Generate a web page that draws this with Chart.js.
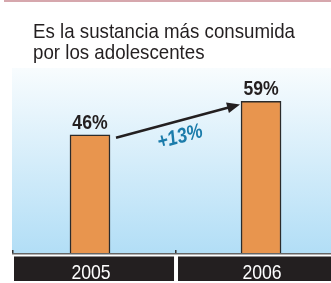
<!doctype html>
<html lang="en">
<head>
    <meta charset="utf-8">
    <title>Es la sustancia más consumida</title>
    <script src="https://cdn.jsdelivr.net/npm/chart.js"></script>
    <style>
        html, body { margin: 0; padding: 0; background: #fff; }
        canvas { display: block; }
    </style>
</head>
<body>
    <canvas id="chartEl" width="331" height="283"></canvas>
    <script>
        const years = ['2005', '2006'];
        const shares = [46, 59];
        const changeLabel = '+13%';
        const titleLines = ['Es la sustancia más consumida', 'por los adolescentes'];

        const FONT = '"Liberation Sans", Arial, sans-serif';

        // draws text squeezed horizontally, like a condensed face
        const narrowText = (ctx, text, x, y, sx) => {
            ctx.save();
            ctx.translate(x, y);
            ctx.scale(sx, 1);
            ctx.fillText(text, 0, 0);
            ctx.restore();
        };

        const decor = {
            id: 'decor',
            beforeDraw: (chart) => {
                const { ctx, chartArea } = chart;
                const x = chart.scales.x;
                ctx.save();
                // pink rule at the very top
                ctx.fillStyle = '#d6a7ad';
                ctx.fillRect(4, 0, 327, 2);

                // title
                ctx.fillStyle = '#231f20';
                ctx.font = '21px ' + FONT;
                ctx.textBaseline = 'alphabetic';
                ctx.textAlign = 'left';
                const sx = 262 / ctx.measureText(titleLines[0]).width;
                narrowText(ctx, titleLines[0], 33, 38, sx);
                narrowText(ctx, titleLines[1], 33, 59, sx);

                // sky gradient
                const g = ctx.createLinearGradient(0, chartArea.top, 0, chartArea.bottom);
                g.addColorStop(0, '#f8fcfe');
                g.addColorStop(1, '#b2def6');
                ctx.fillStyle = g;
                ctx.fillRect(chartArea.left, chartArea.top, chartArea.right - chartArea.left, chartArea.bottom - chartArea.top);

                // axis line and ticks
                const mid = (x.getPixelForValue(0) + x.getPixelForValue(1)) / 2;
                ctx.fillStyle = '#666';
                ctx.fillRect(chartArea.left, chartArea.bottom, chartArea.right - chartArea.left, 1.5);
                ctx.fillStyle = '#333';
                ctx.fillRect(chartArea.left, chartArea.bottom - 3, 1.5, 3);
                ctx.fillRect(mid - 0.5, chartArea.bottom - 3, 1.5, 3);

                // year boxes
                ctx.fillStyle = '#231f20';
                ctx.fillRect(chartArea.left + 2, 256.5, mid - 1.5 - chartArea.left - 2, 24.5);
                ctx.fillRect(mid + 2.5, 256.5, chartArea.right - mid - 2.5, 24.5);
                ctx.fillStyle = '#ffffff';
                ctx.font = '21px ' + FONT;
                ctx.textAlign = 'center';
                years.forEach((yr, i) => {
                    narrowText(ctx, yr, x.getPixelForValue(i) + 1, 278.5, 0.84);
                });
                ctx.restore();
            },
            afterDatasetsDraw: (chart) => {
                const { ctx } = chart;
                const x = chart.scales.x;
                const y = chart.scales.y;
                ctx.save();
                // value labels
                ctx.fillStyle = '#231f20';
                ctx.font = 'bold 21px ' + FONT;
                ctx.textAlign = 'center';
                shares.forEach((v, i) => {
                    narrowText(ctx, v + '%', x.getPixelForValue(i), y.getPixelForValue(v) - 6, 0.84);
                });

                // arrow between bar tops
                const meta = chart.getDatasetMeta(0).data;
                const x0 = meta[0].x + meta[0].width / 2 + 6;
                const y0 = y.getPixelForValue(shares[0]) + 3;
                const x1 = meta[1].x - meta[1].width / 2 - 1;
                const y1 = y.getPixelForValue(shares[1]) + 3;
                const ang = Math.atan2(y1 - y0, x1 - x0);
                ctx.strokeStyle = '#231f20';
                ctx.fillStyle = '#231f20';
                ctx.lineWidth = 2.5;
                ctx.beginPath();
                ctx.moveTo(x0, y0);
                ctx.lineTo(x1 - 8 * Math.cos(ang), y1 - 8 * Math.sin(ang));
                ctx.stroke();
                ctx.beginPath();
                ctx.moveTo(x1, y1);
                ctx.lineTo(x1 - 13 * Math.cos(ang) + 5.5 * Math.sin(ang), y1 - 13 * Math.sin(ang) - 5.5 * Math.cos(ang));
                ctx.lineTo(x1 - 13 * Math.cos(ang) - 5.5 * Math.sin(ang), y1 - 13 * Math.sin(ang) + 5.5 * Math.cos(ang));
                ctx.closePath();
                ctx.fill();

                // change label
                ctx.translate((x0 + x1) / 2 + 2, (y0 + y1) / 2 + 16);
                ctx.rotate(ang);
                ctx.fillStyle = '#1b7cab';
                ctx.font = 'italic bold 21px ' + FONT;
                ctx.textAlign = 'center';
                ctx.textBaseline = 'middle';
                ctx.scale(0.85, 1);
                ctx.fillText(changeLabel, 0, 0);
                ctx.restore();
            }
        };

        new Chart(document.getElementById('chartEl'), {
            type: 'bar',
            data: {
                datasets: [{
                    data: shares.map((v, i) => ({ x: i, y: v })),
                    backgroundColor: '#e8954e',
                    borderColor: '#2b2b2b',
                    borderWidth: 1.5,
                    borderSkipped: 'bottom',
                    barThickness: 40,
                }]
            },
            options: {
                responsive: false,
                animation: false,
                layout: { padding: { left: 12, right: 0, top: 68, bottom: 30 } },
                plugins: { legend: { display: false }, tooltip: { enabled: false } },
                scales: {
                    x: { type: 'linear', offset: false, min: -0.456, max: 1.409, display: false },
                    y: { min: 0, max: 72, display: false }
                }
            },
            plugins: [decor]
        });
    </script>
</body>
</html>
